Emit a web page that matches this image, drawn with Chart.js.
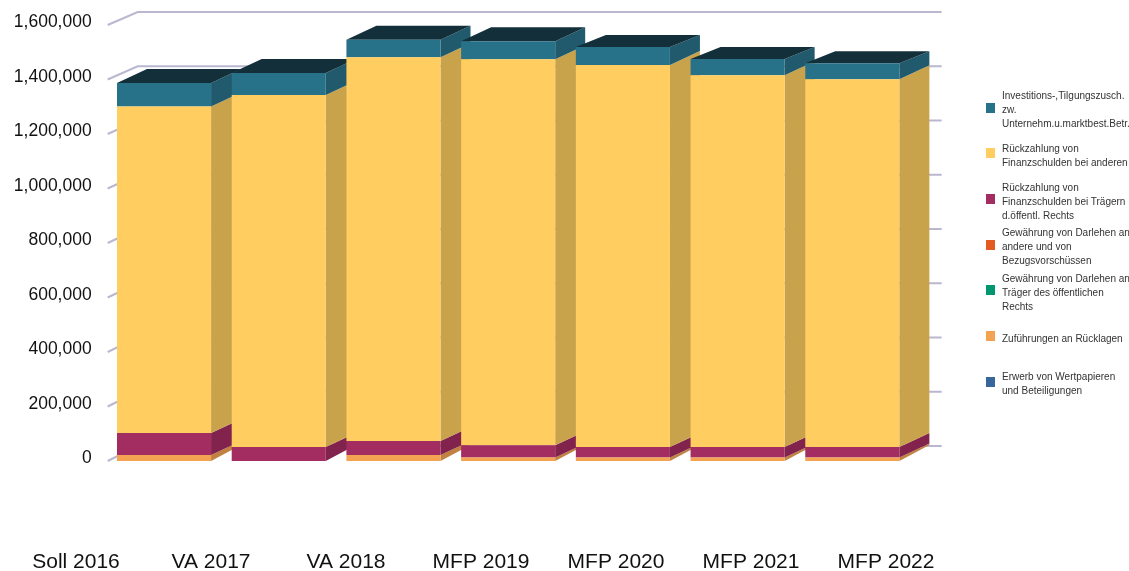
<!DOCTYPE html>
<html lang="de">
<head>
<meta charset="utf-8">
<title>Chart</title>
<script src="https://cdn.jsdelivr.net/npm/chart.js@4"></script>
<style>
    html, body { margin: 0; padding: 0; background: #fff; overflow: hidden; }
    #wrap { position: relative; width: 1129px; height: 571px; overflow: hidden; }
    #legend { position: absolute; left: 986px; top: 84.5px; width: 143px; }
    .item { position: relative; height: 45.7px; white-space: nowrap; font: 10px/14px "Liberation Sans", Arial, sans-serif; color: #333; }
    .item i { position: absolute; left: 0; top: 18px; width: 9px; height: 10px; }
    .item span { position: absolute; left: 16px; top: 50%; transform: translateY(calc(-50% + 2.5px)); }
</style>
</head>
<body>
<div id="wrap">
    <canvas id="chart" width="1129" height="571"></canvas>
    <div id="legend"></div>
</div>
<script>
// Datos
const categorias = ['Soll 2016', 'VA 2017', 'VA 2018', 'MFP 2019', 'MFP 2020', 'MFP 2021', 'MFP 2022'];
const yTicks = [0, 200000, 400000, 600000, 800000, 1000000, 1200000, 1400000, 1600000];

const erwerb = [0, 0, 0, 0, 0, 0, 0];
const zufuehrungen = [22000, 0, 22000, 13000, 13000, 13000, 13000];
const darlehenTraeger = [0, 0, 0, 0, 0, 0, 0];
const darlehenAndere = [0, 0, 0, 0, 0, 0, 0];
const rueckzahlungTraeger = [81000, 51000, 51000, 45000, 38000, 38000, 38000];
const rueckzahlungAndere = [1198000, 1292000, 1409000, 1416000, 1402000, 1365000, 1350000];
const investitionen = [86000, 81000, 64000, 66000, 66000, 59000, 59000];

// de abajo hacia arriba, igual que la pila
const series = [
    { data: erwerb, color: '#38659B', lines: ['Erwerb von Wertpapieren', 'und Beteiligungen'] },
    { data: zufuehrungen, color: '#F3A352', lines: ['Zuführungen an Rücklagen'] },
    { data: darlehenTraeger, color: '#00966F', lines: ['Gewährung von Darlehen an', 'Träger des öffentlichen', 'Rechts'] },
    { data: darlehenAndere, color: '#E35B20', lines: ['Gewährung von Darlehen an', 'andere und von', 'Bezugsvorschüssen'] },
    { data: rueckzahlungTraeger, color: '#A32C60', lines: ['Rückzahlung von', 'Finanzschulden bei Trägern', 'd.öffentl. Rechts'] },
    { data: rueckzahlungAndere, color: '#FFCD60', lines: ['Rückzahlung von', 'Finanzschulden bei anderen'] },
    { data: investitionen, color: '#287289', lines: ['Investitions-,Tilgungszusch.', 'zw.', 'Unternehm.u.marktbest.Betr.'] }
];

// Efecto 3D y posiciones de etiquetas
const DEPTH_X = 30;
const DEPTH_Y = 14;
const DEPTH_Y_BASE = 16;
const DEPTH_Y_TOP = [14, 14, 14, 14, 12, 12, 12];
const GRID_COLOR = '#B9B8D0';
const TOP_COLOR = '#122F3A';
const LABEL_X0 = 76;
const LABEL_STEP = 135;

function oscurecer(hex, f) {
    const n = parseInt(hex.slice(1), 16);
    const c = [n >> 16, (n >> 8) & 255, n & 255].map(v => Math.round(v * f));
    return `rgb(${c[0]},${c[1]},${c[2]})`;
}

function poly(ctx, pts, color) {
    ctx.fillStyle = color;
    ctx.beginPath();
    pts.forEach((p, i) => i ? ctx.lineTo(p[0], p[1]) : ctx.moveTo(p[0], p[1]));
    ctx.closePath();
    ctx.fill();
}

// Rejilla en la pared del fondo, debajo de las barras
const paredFondo = {
    id: 'paredFondo',
    beforeDatasetsDraw(chart) {
        const { ctx, chartArea, scales } = chart;
        ctx.save();
        ctx.strokeStyle = GRID_COLOR;
        ctx.lineWidth = 2;
        yTicks.forEach(v => {
            const y = scales.y.getPixelForValue(v);
            const yBack = y - (13 + 2 * (y - chartArea.top) / chartArea.height);
            ctx.beginPath();
            ctx.moveTo(chartArea.left + 1, y);
            ctx.lineTo(chartArea.left + 1 + DEPTH_X, yBack);
            ctx.lineTo(chartArea.right + 32, yBack);
            ctx.stroke();
        });
        ctx.restore();
    }
};

// Caras lateral y superior de cada barra, de izquierda a derecha
const caras3d = {
    id: 'caras3d',
    beforeDatasetsDraw(chart) {
        const { ctx, scales } = chart;
        const cero = scales.y.getPixelForValue(0);
        ctx.save();
        categorias.forEach((c, i) => {
            const visibles = series.map((s, d) => ({ s, bar: chart.getDatasetMeta(d).data[i] })).filter(o => o.s.data[i]);
            visibles.forEach((o, k) => {
                const bar = o.bar;
                const r = bar.x + bar.width / 2;
                const dyTop = k === visibles.length - 1 ? DEPTH_Y_TOP[i] : DEPTH_Y;
                const dyBase = Math.abs(bar.base - cero) < 1 ? DEPTH_Y_BASE : DEPTH_Y;
                poly(ctx, [
                    [r, bar.y], [r + DEPTH_X, bar.y - dyTop],
                    [r + DEPTH_X, bar.base - dyBase], [r, bar.base]
                ], oscurecer(o.s.color, 0.79));
            });
            const top = visibles[visibles.length - 1].bar;
            const l = top.x - top.width / 2;
            const r = top.x + top.width / 2;
            poly(ctx, [
                [l, top.y], [l + DEPTH_X, top.y - DEPTH_Y_TOP[i]],
                [r + DEPTH_X, top.y - DEPTH_Y_TOP[i]], [r, top.y]
            ], TOP_COLOR);
        });
        ctx.restore();
    }
};

new Chart(document.getElementById('chart'), {
    type: 'bar',
    data: {
        labels: categorias,
        datasets: series.map(s => ({
            label: s.lines.join(' '),
            data: s.data,
            backgroundColor: s.color,
            borderWidth: 0,
            barPercentage: 0.82,
            categoryPercentage: 1
        }))
    },
    options: {
        responsive: false,
        animation: false,
        layout: { padding: { top: 25, right: 219.33, bottom: 0, left: 0 } },
        plugins: {
            legend: { display: false },
            tooltip: { enabled: false }
        },
        scales: {
            x: {
                stacked: true,
                grid: { display: false },
                border: { display: false },
                afterFit: s => { s.height = 110; },
                afterUpdate: s => {
                    // las etiquetas no siguen a las barras en el original
                    s.getPixelForTick = i => LABEL_X0 + i * LABEL_STEP;
                },
                ticks: {
                    autoSkip: false,
                    maxRotation: 0,
                    padding: 81,
                    color: '#111',
                    font: { family: '"Liberation Sans"', size: 21 }
                }
            },
            y: {
                stacked: true,
                min: 0,
                max: 1600000,
                grid: { display: false },
                border: { display: false },
                afterFit: s => { s.width = 106.67; },
                afterBuildTicks: s => { s.ticks = yTicks.map(v => ({ value: v })); },
                ticks: {
                    padding: 7,
                    labelOffset: -2.5,
                    color: '#111',
                    font: { family: '"Liberation Sans"', size: 17.5 },
                    callback: v => v.toLocaleString('en-US')
                }
            }
        }
    },
    plugins: [paredFondo, caras3d]
});

// Leyenda en HTML, mismo orden que el original
const legend = document.getElementById('legend');
legend.innerHTML = series.slice().reverse().map(s => `
    <div class="item"><i style="background:${s.color}"></i><span>${s.lines.join('<br>')}</span></div>
`).join('');
</script>
</body>
</html>
